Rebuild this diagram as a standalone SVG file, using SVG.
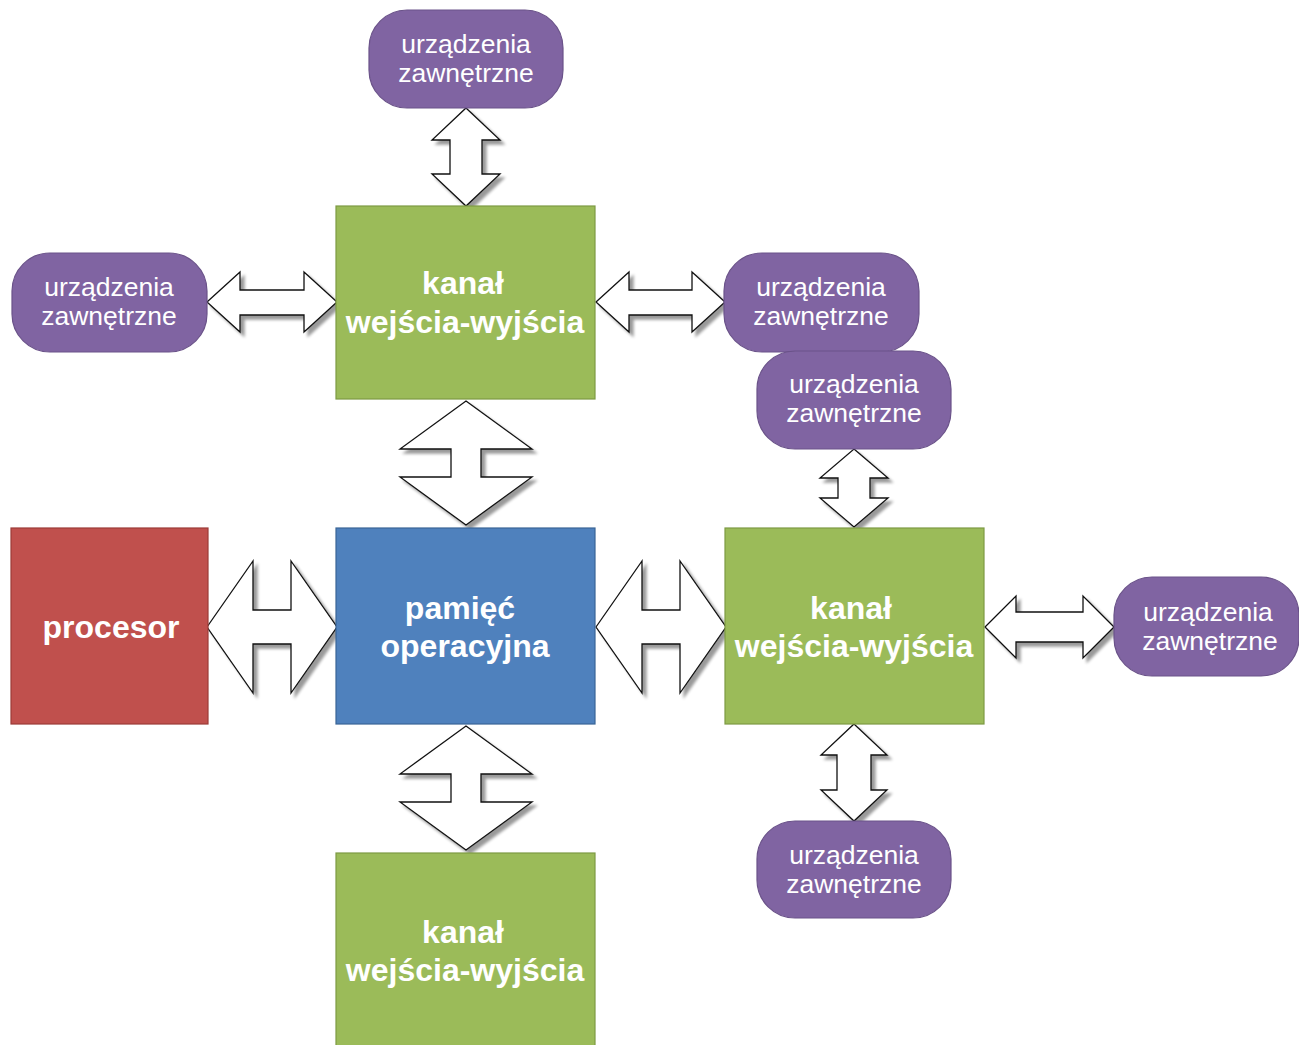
<svg xmlns="http://www.w3.org/2000/svg" width="1299" height="1045" viewBox="0 0 1299 1045">
<style>
.dev{fill:#8064A2;stroke:#6A5289;stroke-width:1.2}
.kan{fill:#9BBB59;stroke:#7D9A44;stroke-width:1.2}
.mem{fill:#4F81BD;stroke:#3A6596;stroke-width:1.2}
.cpu{fill:#C0504D;stroke:#9C3B38;stroke-width:1.2}
.dt{font-family:"Liberation Sans",Arial,sans-serif;font-size:26.5px;fill:#fff;text-anchor:middle}
.bt{font-family:"Liberation Sans",Arial,sans-serif;font-size:32px;font-weight:bold;fill:#fff;text-anchor:middle}
.arr{fill:#fff;stroke:#111;stroke-width:1.3;stroke-linejoin:miter;filter:url(#sh)}
</style>
<defs>
<filter id="sh" x="-20%" y="-20%" width="150%" height="150%">
<feGaussianBlur in="SourceAlpha" stdDeviation="1.5"/>
<feOffset dx="4" dy="4"/>
<feComponentTransfer><feFuncA type="linear" slope="0.4"/></feComponentTransfer>
<feMerge><feMergeNode/><feMergeNode in="SourceGraphic"/></feMerge>
</filter>
</defs>
<rect width="1299" height="1045" fill="#fff"/>

<g id="connectors">
<!-- top device <-> top channel -->
<path class="arr" d="M466,108 L500,140 L482,140 L482,174 L500,174 L466,206 L432,174 L450,174 L450,140 L432,140 Z"/>
<!-- left device <-> top channel -->
<path class="arr" d="M207,302 L240,272 L240,290 L304,290 L304,272 L337,302 L304,332 L304,315 L240,315 L240,332 Z"/>
<!-- top channel <-> right device -->
<path class="arr" d="M596,302 L629,272 L629,290 L692,290 L692,272 L725,302 L692,332 L692,315 L629,315 L629,332 Z"/>
<!-- top channel <-> memory -->
<path class="arr" d="M466,401 L532,449 L481,449 L481,477 L532,477 L466,525 L400,477 L451,477 L451,449 L400,449 Z"/>
<!-- memory <-> bottom channel -->
<path class="arr" d="M466,726 L532,774 L481,774 L481,802 L532,802 L466,850 L400,802 L451,802 L451,774 L400,774 Z"/>
<!-- processor <-> memory -->
<path class="arr" d="M207,627 L253,561 L253,610 L291,610 L291,561 L337,627 L291,693 L291,644 L253,644 L253,693 Z"/>
<!-- memory <-> right channel -->
<path class="arr" d="M596,627 L642,561 L642,610 L680,610 L680,561 L726,627 L680,693 L680,644 L642,644 L642,693 Z"/>
<!-- right device 2 <-> right channel -->
<path class="arr" d="M854,449 L888,478 L870,478 L870,498 L888,498 L854,527 L820,498 L838,498 L838,478 L820,478 Z"/>
<!-- right channel <-> far right device -->
<path class="arr" d="M985,627 L1016,596 L1016,612 L1083,612 L1083,596 L1114,627 L1083,658 L1083,642 L1016,642 L1016,658 Z"/>
<!-- right channel <-> bottom device -->
<path class="arr" d="M854,724 L887,755 L871,755 L871,790 L887,790 L854,821 L821,790 L837,790 L837,755 L821,755 Z"/>
</g>

<g id="dev-top"><rect class="dev" x="369" y="10" width="194" height="98" rx="38"/>
<text class="dt" x="466" y="53">urządzenia</text><text class="dt" x="466" y="82">zawnętrzne</text></g>

<g id="dev-left"><rect class="dev" x="12" y="253" width="195" height="99" rx="38"/>
<text class="dt" x="109" y="296">urządzenia</text><text class="dt" x="109" y="325">zawnętrzne</text></g>

<g id="dev-right1"><rect class="dev" x="724" y="253" width="195" height="99" rx="38"/>
<text class="dt" x="821" y="296">urządzenia</text><text class="dt" x="821" y="325">zawnętrzne</text></g>

<g id="dev-right2"><rect class="dev" x="757" y="351" width="194" height="98" rx="38"/>
<text class="dt" x="854" y="393">urządzenia</text><text class="dt" x="854" y="422">zawnętrzne</text></g>

<g id="dev-farright"><rect class="dev" x="1114" y="577" width="185" height="99" rx="38"/>
<text class="dt" x="1208" y="621">urządzenia</text><text class="dt" x="1210" y="650">zawnętrzne</text></g>

<g id="dev-bottom"><rect class="dev" x="757" y="821" width="194" height="97" rx="38"/>
<text class="dt" x="854" y="864">urządzenia</text><text class="dt" x="854" y="893">zawnętrzne</text></g>

<g id="kanal-top"><rect class="kan" x="336" y="206" width="259" height="193"/>
<text class="bt" x="463" y="294">kanał</text><text class="bt" x="465" y="333">wejścia-wyjścia</text></g>

<g id="kanal-right"><rect class="kan" x="725" y="528" width="259" height="196"/>
<text class="bt" x="851" y="619">kanał</text><text class="bt" x="854" y="657">wejścia-wyjścia</text></g>

<g id="kanal-bottom"><rect class="kan" x="336" y="853" width="259" height="200"/>
<text class="bt" x="463" y="943">kanał</text><text class="bt" x="465" y="981">wejścia-wyjścia</text></g>

<g id="pamiec"><rect class="mem" x="336" y="528" width="259" height="196"/>
<text class="bt" x="460" y="619">pamięć</text><text class="bt" x="465" y="657">operacyjna</text></g>

<g id="procesor"><rect class="cpu" x="11" y="528" width="197" height="196"/>
<text class="bt" x="111" y="638">procesor</text></g>
</svg>
